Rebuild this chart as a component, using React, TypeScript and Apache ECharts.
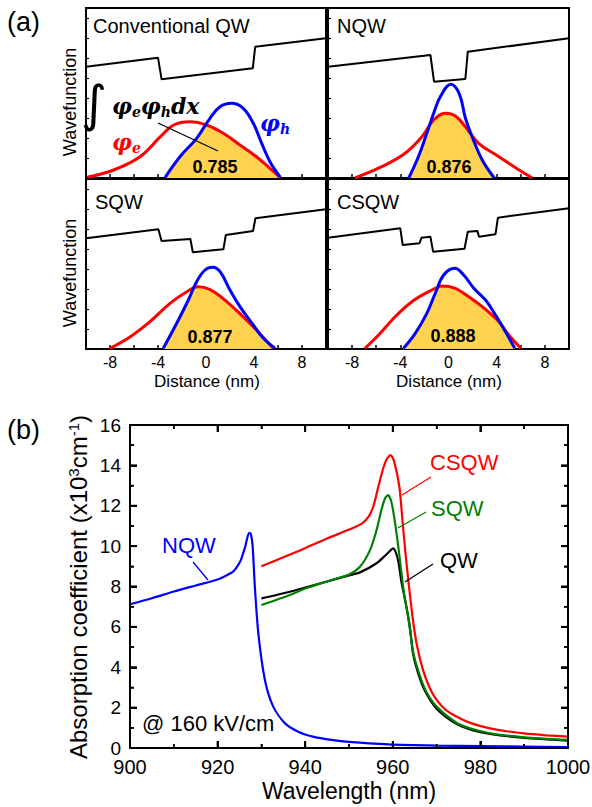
import React, { useEffect, useRef, useState } from "react";
import * as echarts from "echarts";

const F = '"Liberation Sans", Arial, sans-serif';
const SERIF = '"DejaVu Serif", serif';

// ---------- (a) band profiles and wavefunctions: [distance (nm), value (a.u.)] ----------
const qwPotential = [[-10, 111.3], [-4, 120.3], [-3.7, 98.7], [3.9, 109.7], [4.1, 131.3], [10, 139.7]];
const qwElectron = [[-9.9, 0.7], [-7.7, 8], [-5.5, 21.3], [-3.8, 41.3], [-2.7, 53], [-1.33, 56.3], [0.05, 53], [1.44, 44.7], [2.83, 33], [4.2, 21.3], [5.33, 9.7], [6.17, 0.7]];
const qwHole = [[-3.4, 0.7], [-2.17, 21.3], [-0.78, 39.7], [0.33, 59.7], [1.17, 71.3], [2.14, 74.7], [3.1, 69.7], [3.94, 54.7], [4.64, 34.7], [5.33, 16.3], [6.2, 0.7]];
const qwOverlap = [[-3.4, 0.7], [-2.17, 21.3], [-0.78, 39.7], [0.0, 53.2], [1.44, 44.7], [2.83, 33], [4.2, 21.3], [5.33, 9.7], [6.17, 0.7]];

const nqwPotential = [[-10, 111.3], [-1.5, 123], [-1.2, 96.3], [1.4, 99], [1.6, 126.3], [10, 139.7]];
const nqwElectron = [[-7.77, 0], [-5.54, 11.3], [-3.6, 24.7], [-2.2, 41.3], [-1.23, 58], [-0.26, 64.7], [0.57, 62], [1.4, 51.3], [2.5, 34.7], [4.18, 21.3], [5.85, 8], [6.96, 0]];
const nqwHole = [[-3.3, 0], [-2.5, 21.3], [-1.8, 44.7], [-1.23, 64.7], [-0.68, 81.3], [0.2, 93.7], [0.9, 84], [1.4, 60], [1.96, 41.3], [2.8, 18], [3.8, 0]];
const nqwOverlap = [[-3.3, 0], [-2.5, 21.3], [-1.8, 44.7], [-1.4, 55], [-0.26, 64.7], [0.57, 62], [1.4, 51.3], [1.96, 41.3], [2.8, 18], [3.8, 0]];

const sqwPotential = [[-10, 110.7], [-3.97, 119.7], [-3.7, 108], [-1.3, 110], [-1.1, 96.7], [1.45, 99.7], [1.65, 114], [3.92, 118], [4.12, 130.7], [10, 139.7]];
const sqwElectron = [[-8, 0.7], [-6.3, 12.3], [-4.67, 27.3], [-3, 45.7], [-1.6, 57.3], [-0.67, 62.3], [0.3, 59.7], [1.4, 50.7], [2.8, 35.7], [4.2, 19], [5.6, 0.7]];
const sqwHole = [[-3.56, 0.7], [-2.44, 25.7], [-1.47, 49], [-0.78, 67.3], [-0.08, 79], [0.56, 81.7], [1.17, 77.3], [2, 59], [2.83, 42.3], [3.94, 24], [4.78, 10.7], [5.75, 0.7]];
const sqwOverlap = [[-3.56, 0.7], [-2.44, 25.7], [-1.47, 49], [-1.1, 59.5], [-0.67, 62.3], [0.3, 59.7], [1.4, 50.7], [2.8, 35.7], [4.2, 19], [5.6, 0.7]];

const csqwPotential = [[-10, 111.3], [-4, 120.7], [-3.8, 104], [-2.4, 105.7], [-2.25, 111.3], [-1.5, 112.3], [-1.28, 97.3], [1.33, 100.3], [1.6, 117.3], [2.4, 118], [2.53, 112.3], [3.9, 114.7], [4.1, 131.3], [10, 140.7]];
const csqwElectron = [[-6.93, 0.7], [-5.8, 14], [-4.43, 32.3], [-3.04, 47.3], [-1.65, 57.3], [-0.54, 63], [0.57, 60.7], [1.68, 52.3], [2.8, 42.3], [4.18, 27.3], [5, 14], [6, 0.7]];
const csqwHole = [[-3.74, 0.7], [-2.76, 15.7], [-1.8, 35.7], [-1.1, 55.7], [-0.4, 74], [0.52, 80.7], [1.26, 74], [2.1, 60.7], [3.07, 49], [3.9, 34], [4.73, 17.3], [5.5, 0.7]];
const csqwOverlap = [[-3.74, 0.7], [-2.76, 15.7], [-1.8, 35.7], [-1.1, 55.7], [-0.85, 61.5], [-0.54, 63], [0.57, 60.7], [1.68, 52.3], [2.8, 42.3], [4.18, 27.3], [4.6, 20], [5.5, 0.7]];

const panelNames = ["Conventional QW", "NQW", "SQW", "CSQW"];
const overlapValues = ["0.785", "0.876", "0.877", "0.888"];
const distanceTicks = [-8, -4, 0, 4, 8];

// ---------- (b) absorption spectra: [wavelength (nm), absorption (x10^3 cm^-1)] ----------
const nqwAbs = [[900, 7.12], [905, 7.42], [910, 7.75], [915, 8.05], [920, 8.35], [922, 8.55], [923.6, 8.75], [924.5, 9.0], [925.3, 9.31], [926.3, 9.97], [927.2, 10.66], [927.6, 10.6], [928, 10.0], [928.5, 8.0], [929.3, 5.68], [930.8, 3.37], [932.7, 2.05], [935.4, 1.22], [938.4, 0.81], [942, 0.55], [946, 0.4], [950, 0.3], [959, 0.18], [970, 0.12], [980, 0.09], [990, 0.07], [1000, 0.05]];
const qwAbs = [[930, 7.41], [936.5, 7.74], [940, 7.95], [945, 8.25], [950, 8.55], [952.5, 8.7], [956.3, 9.15], [958.6, 9.6], [960.1, 9.89], [961.2, 9.31], [961.9, 8.32], [963.1, 7.0], [963.9, 6.0], [964.6, 4.7], [965.8, 3.7], [967.3, 2.85], [970, 1.95], [974.6, 1.18], [978, 0.9], [982.2, 0.7], [990, 0.5], [1000, 0.37]];
const sqwAbs = [[930, 7.08], [936.5, 7.58], [940, 7.9], [945, 8.25], [950, 8.6], [952.5, 8.98], [954.8, 9.8], [956.3, 10.8], [957.4, 11.8], [958.2, 12.35], [958.9, 12.53], [959.6, 12.25], [960.2, 11.6], [961, 10.4], [961.8, 9.0], [962.6, 7.6], [963.5, 6.5], [964.7, 4.7], [966, 3.7], [967.5, 2.85], [970, 2.05], [974.6, 1.24], [978, 0.95], [982.2, 0.73], [990, 0.53], [1000, 0.4]];
const csqwAbs = [[930, 9.0], [935, 9.45], [940, 9.9], [945, 10.38], [950, 10.82], [953, 11.13], [954.6, 11.5], [955.6, 12.0], [956.7, 12.94], [957.7, 13.77], [958.6, 14.3], [959.5, 14.51], [960.3, 14.2], [961.5, 12.94], [962.2, 11.29], [962.9, 9.64], [963.7, 7.99], [964.6, 6.34], [965.5, 5.1], [966.9, 3.86], [968.5, 2.95], [970, 2.38], [972, 1.9], [974.6, 1.55], [978, 1.22], [982.2, 0.97], [986, 0.83], [990, 0.72], [995, 0.63], [1000, 0.56]];

// (b) axis range and tick values
const WL_MIN = 900;
const WL_MAX = 1000;
const ABS_MIN = 0;
const ABS_MAX = 16;
const wlMajorTicks = [900, 920, 940, 960, 980, 1000];
const wlMinorTicks = [910, 930, 950, 970, 990];
const absMajorTicks = [0, 2, 4, 6, 8, 10, 12, 14, 16];
const absMinorTicks = [1, 3, 5, 7, 9, 11, 13, 15];

const panels = [
  { pot: qwPotential, e: qwElectron, h: qwHole, o: qwOverlap },
  { pot: nqwPotential, e: nqwElectron, h: nqwHole, o: nqwOverlap },
  { pot: sqwPotential, e: sqwElectron, h: sqwHole, o: sqwOverlap },
  { pot: csqwPotential, e: csqwElectron, h: csqwHole, o: csqwOverlap },
];

const panelGrids = [
  { left: 86, top: 8, width: 240, height: 170 },
  { left: 328, top: 8, width: 241, height: 170 },
  { left: 86, top: 179, width: 240, height: 170 },
  { left: 328, top: 179, width: 241, height: 170 },
];
const specGrid = { left: 130, top: 425, width: 438, height: 323 };

function txt(text: string, x: number, y: number, opts: any = {}) {
  const { rotation, ...style } = opts;
  return {
    type: "text",
    x,
    y,
    rotation: rotation || 0,
    z: 100,
    style: {
      text,
      fontFamily: F,
      fontSize: 20,
      fill: "#000",
      verticalAlign: "middle",
      align: "left",
      ...style,
    },
  };
}

function seg(x1: number, y1: number, x2: number, y2: number, color: string, w = 1.3) {
  return {
    type: "line",
    z: 100,
    shape: { x1, y1, x2, y2 },
    style: { stroke: color, lineWidth: w },
  };
}

// Chart A: panel (a) plus the frame/ticks of panel (b) (a grid without series)
function buildA() {
  const grids: any[] = panelGrids.map((g) => ({
    ...g,
    show: true,
    borderColor: "#000",
    borderWidth: 2,
    backgroundColor: "transparent",
    containLabel: false,
    outerBoundsMode: "none",
  }));
  grids.push({ ...specGrid, show: true, borderColor: "#000", borderWidth: 2, backgroundColor: "transparent", containLabel: false, outerBoundsMode: "none" });

  const xAxes: any[] = panelGrids.map((_, i) => ({
    gridIndex: i,
    type: "value",
    min: -10,
    max: 10,
    interval: 2,
    axisLine: { show: false, onZero: false },
    splitLine: { show: false },
    axisTick: { show: true, inside: true, length: 4, lineStyle: { color: "#000", width: 1.5 } },
    axisLabel: {
      show: i >= 2,
      margin: 5,
      fontFamily: F,
      fontSize: 16,
      color: "#000",
      formatter: (v: number) => (distanceTicks.indexOf(v) >= 0 ? String(v) : ""),
    },
  }));
  const yAxes: any[] = panelGrids.map((_, i) => ({
    gridIndex: i,
    type: "value",
    min: 0,
    max: 170,
    interval: 20,
    axisLine: { show: false, onZero: false },
    splitLine: { show: false },
    axisTick: { show: true, inside: true, length: 3, lineStyle: { color: "#000", width: 1.2 } },
    axisLabel: { show: false },
  }));
  const fx = (pos: string) => ({
    gridIndex: 4,
    type: "value",
    position: pos,
    min: WL_MIN,
    max: WL_MAX,
    interval: 20,
    axisLine: { show: true, onZero: false, lineStyle: { color: "#000", width: 2 } },
    splitLine: { show: false },
    axisTick: { show: true, inside: true, length: 7, lineStyle: { color: "#000", width: 2 } },
    minorTick: { show: true, splitNumber: 2, length: 4, lineStyle: { color: "#000", width: 1.5 } },
    axisLabel: { show: false },
  });
  const fy = (pos: string) => ({
    gridIndex: 4,
    type: "value",
    position: pos,
    min: ABS_MIN,
    max: ABS_MAX,
    interval: 2,
    axisLine: { show: true, onZero: false, lineStyle: { color: "#000", width: 2 } },
    splitLine: { show: false },
    axisTick: { show: true, inside: true, length: 7, lineStyle: { color: "#000", width: 2 } },
    minorTick: { show: true, splitNumber: 2, length: 4, lineStyle: { color: "#000", width: 1.5 } },
    axisLabel: { show: false },
  });
  xAxes.push(fx("bottom"), fx("top"));
  yAxes.push(fy("left"), fy("right"));

  const series: any[] = [];
  panels.forEach((p, i) => {
    const base = { type: "line", xAxisIndex: i, yAxisIndex: i, symbol: "none", showSymbol: false, silent: true };
    series.push({ ...base, data: p.o, smooth: 0.4, lineStyle: { width: 0 }, areaStyle: { color: "#FFD24F", opacity: 1 }, z: 1 });
    series.push({ ...base, data: p.e, smooth: i === 3 ? 0.25 : 0.4, lineStyle: { color: "#FF0000", width: 3 }, z: 3 });
    series.push({ ...base, data: p.h, smooth: 0.4, lineStyle: { color: "#0000FF", width: 3 }, z: 4 });
    series.push({ ...base, data: p.pot, smooth: false, lineStyle: { color: "#000", width: 2 }, z: 5 });
  });
  const phiRich = {
    p: { fontFamily: SERIF, fontStyle: "italic", fontWeight: "bold", fontSize: 22, lineHeight: 26 },
    s: { fontFamily: SERIF, fontStyle: "italic", fontWeight: "bold", fontSize: 14, lineHeight: 13, verticalAlign: "bottom" },
  };
  const graphic: any[] = [
    txt("(a)", 7, 22, { fontSize: 27 }),
    txt(panelNames[0], 93, 26),
    txt(panelNames[1], 337, 26),
    txt(panelNames[2], 95, 202),
    txt(panelNames[3], 337, 202),
    txt("Wavefunction", 70, 102, { rotation: Math.PI / 2, align: "center", fontSize: 18 }),
    txt("Wavefunction", 70, 273, { rotation: Math.PI / 2, align: "center", fontSize: 18 }),
    txt("Distance (nm)", 207, 381, { align: "center", fontSize: 17 }),
    txt("Distance (nm)", 449, 381, { align: "center", fontSize: 17 }),
    txt(overlapValues[0], 215, 167, { align: "center", fontSize: 18, fontWeight: "bold" }),
    txt(overlapValues[1], 449, 167, { align: "center", fontSize: 18, fontWeight: "bold" }),
    txt(overlapValues[2], 210, 337, { align: "center", fontSize: 18, fontWeight: "bold" }),
    txt(overlapValues[3], 453, 336, { align: "center", fontSize: 18, fontWeight: "bold" }),
    txt("∫", 94, 104, { align: "center", fontSize: 50, fontFamily: '"DejaVu Sans", sans-serif' }),
    txt("{p|φ}{s|e}{p|φ}{s|h}{p|dx}", 112, 106, { rich: phiRich }),
    txt("{p|φ}{s|e}", 112, 142, { rich: { p: { ...phiRich.p, fill: "#FF0000" }, s: { ...phiRich.s, fill: "#FF0000" } } }),
    txt("{p|φ}{s|h}", 260, 123, { rich: { p: { ...phiRich.p, fill: "#0000FF" }, s: { ...phiRich.s, fill: "#0000FF" } } }),
    seg(158, 123, 218, 151, "#000"),
  ];
  return { animation: false, grid: grids, xAxis: xAxes, yAxis: yAxes, series, graphic };
}

// Chart B (transparent overlay): panel (b) spectra, tick labels and annotations
function buildB() {
  const xAx = {
    type: "value",
    min: WL_MIN,
    max: WL_MAX,
    interval: 20,
    axisLine: { show: false, onZero: false },
    splitLine: { show: false },
    axisTick: { show: false },
    axisLabel: { show: true, margin: 9, fontFamily: F, fontSize: 20, color: "#000", formatter: (v: number) => String(v) },
  };
  const yAx = {
    type: "value",
    min: ABS_MIN,
    max: ABS_MAX,
    interval: 2,
    axisLine: { show: false, onZero: false },
    splitLine: { show: false },
    axisTick: { show: false },
    axisLabel: { show: true, margin: 9, fontFamily: F, fontSize: 19, color: "#000", formatter: (v: number) => String(v) },
  };
  const specBase = { type: "line", symbol: "none", showSymbol: false, smooth: 0.25, silent: true };
  const series: any[] = [
    { ...specBase, name: "NQW", data: nqwAbs, lineStyle: { color: "#0000FF", width: 2.2 } },
    { ...specBase, name: "QW", data: qwAbs, lineStyle: { color: "#000000", width: 2.2 } },
    { ...specBase, name: "SQW", data: sqwAbs, lineStyle: { color: "#008000", width: 2.2 } },
    { ...specBase, name: "CSQW", data: csqwAbs, lineStyle: { color: "#FF0000", width: 2.2 } },
  ];
  const graphic: any[] = [
    txt("(b)", 7, 430, { fontSize: 27 }),
    txt("Absorption coefficient (x10{s|3}cm{s|-1})", 78, 587, {
      rotation: Math.PI / 2,
      align: "center",
      fontSize: 24,
      rich: { s: { fontFamily: F, fontSize: 15, lineHeight: 13, verticalAlign: "top", fill: "#000" } },
    }),
    txt("Wavelength (nm)", 349, 791, { align: "center", fontSize: 23 }),
    txt("@ 160 kV/cm", 142, 723, { fontSize: 22 }),
    txt("NQW", 162, 545, { fontSize: 22, fill: "#0000FF" }),
    seg(193, 562, 208, 580, "#0000FF"),
    txt("CSQW", 430, 462, { fontSize: 22, fill: "#FF0000" }),
    seg(431, 477, 402, 495, "#FF0000"),
    txt("SQW", 431, 508, { fontSize: 22, fill: "#008000" }),
    seg(426, 512, 398, 528, "#008000"),
    txt("QW", 440, 560, { fontSize: 22, fill: "#000" }),
    seg(433, 564, 405, 582, "#000"),
  ];
  return {
    animation: false,
    grid: [{ ...specGrid, show: false, containLabel: false, outerBoundsMode: "none" }],
    xAxis: [xAx],
    yAxis: [yAx],
    series,
    graphic,
  };
}

type FrameGeom = {
  x0: number; y0: number; x1: number; y1: number;
  xt: { p: number; major: boolean }[];
  yt: { p: number; major: boolean }[];
};

export default function App() {
  const refA = useRef<HTMLDivElement>(null);
  const refB = useRef<HTMLDivElement>(null);
  const [frame, setFrame] = useState<FrameGeom | null>(null);
  useEffect(() => {
    if (!refA.current || !refB.current) return;
    const a = echarts.init(refA.current, undefined, { renderer: "svg" });
    const b = echarts.init(refB.current, undefined, { renderer: "svg" });
    a.setOption(buildA());
    b.setOption(buildB());
    const px = (v: number[]) => {
      const r = b.convertToPixel({ gridIndex: 0 }, v) as any;
      return Array.isArray(r) ? [Number(r[0]), Number(r[1])] : [NaN, NaN];
    };
    const tl = px([WL_MIN, ABS_MAX]);
    const br = px([WL_MAX, ABS_MIN]);
    if (isFinite(tl[0]) && isFinite(br[1])) {
      setFrame({
        x0: tl[0], y0: tl[1], x1: br[0], y1: br[1],
        xt: [...wlMajorTicks.map((v) => ({ p: px([v, ABS_MIN])[0], major: true })), ...wlMinorTicks.map((v) => ({ p: px([v, ABS_MIN])[0], major: false }))],
        yt: [...absMajorTicks.map((v) => ({ p: px([WL_MIN, v])[1], major: true })), ...absMinorTicks.map((v) => ({ p: px([WL_MIN, v])[1], major: false }))],
      });
    }
    return () => {
      a.dispose();
      b.dispose();
    };
  }, []);

  return (
    <div style={{ position: "absolute", left: 0, top: 0, width: 592, height: 807, background: "#fff" }}>
      <div ref={refA} style={{ position: "absolute", left: 0, top: 0, width: 592, height: 807 }} />
      <div ref={refB} style={{ position: "absolute", left: 0, top: 0, width: 592, height: 807, pointerEvents: "none" }} />
      {frame && (
        <svg width={592} height={807} style={{ position: "absolute", left: 0, top: 0, pointerEvents: "none" }}>
          <rect x={frame.x0} y={frame.y0} width={frame.x1 - frame.x0} height={frame.y1 - frame.y0} fill="none" stroke="#000" strokeWidth={2} />
          {frame.xt.map((t, i) => (
            <g key={"x" + i} stroke="#000" strokeWidth={t.major ? 2 : 1.5}>
              <line x1={t.p} y1={frame.y1} x2={t.p} y2={frame.y1 - (t.major ? 7 : 4)} />
              <line x1={t.p} y1={frame.y0} x2={t.p} y2={frame.y0 + (t.major ? 7 : 4)} />
            </g>
          ))}
          {frame.yt.map((t, i) => (
            <g key={"y" + i} stroke="#000" strokeWidth={t.major ? 2 : 1.5}>
              <line x1={frame.x0} y1={t.p} x2={frame.x0 + (t.major ? 7 : 4)} y2={t.p} />
              <line x1={frame.x1} y1={t.p} x2={frame.x1 - (t.major ? 7 : 4)} y2={t.p} />
            </g>
          ))}
        </svg>
      )}
    </div>
  );
}
